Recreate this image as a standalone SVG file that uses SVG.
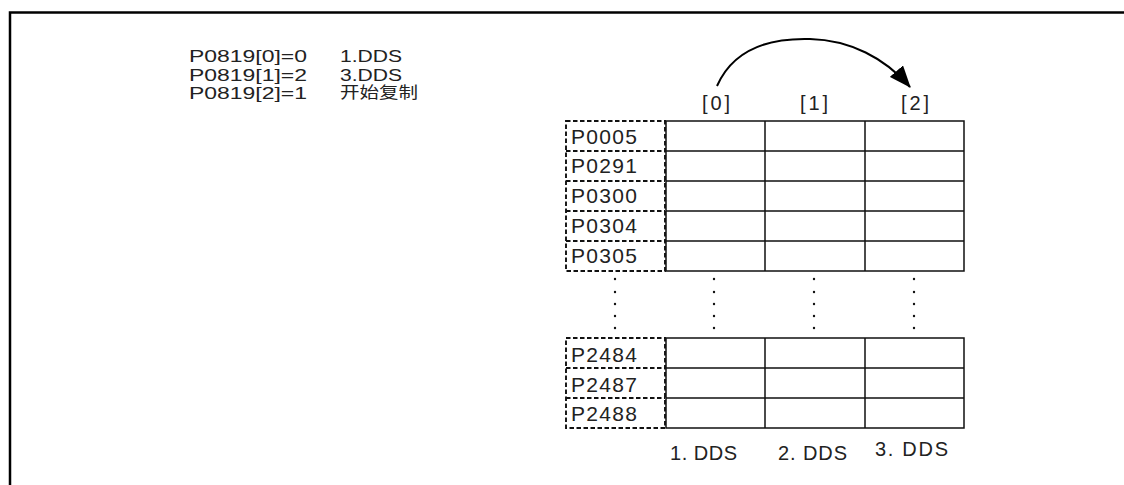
<svg xmlns="http://www.w3.org/2000/svg" width="1124" height="485" viewBox="0 0 1124 485">
<defs>
<style>
.t{font-family:"Liberation Sans","Noto Sans CJK SC",sans-serif;font-size:20px;fill:#222}
.s{font-size:16px}
.r{font-size:21px}
.g{stroke:#111;stroke-width:1.5;fill:none}
.d{stroke:#111;stroke-width:1.9;fill:none;stroke-dasharray:4.5 2.5}
.dot{fill:#111}
</style>
<marker id="ah2" viewBox="0 0 20 16" refX="19" refY="8" markerWidth="22" markerHeight="18" markerUnits="userSpaceOnUse" orient="auto">
<path d="M0,0 L20,8 L0,16 z" fill="#000"/>
</marker>
</defs>
<rect width="1124" height="485" fill="#fff"/>
<g id="frame">
<path d="M10,485 V12.5 H1124" fill="none" stroke="#000" stroke-width="2.5"/>
</g>
<g id="settings">
<text class="t s" x="189" y="62" textLength="118" lengthAdjust="spacingAndGlyphs">P0819[0]=0</text>
<text class="t s" x="340" y="62" textLength="62" lengthAdjust="spacingAndGlyphs">1.DDS</text>
<text class="t s" x="189" y="80.5" textLength="118" lengthAdjust="spacingAndGlyphs">P0819[1]=2</text>
<text class="t s" x="340" y="80.5" textLength="62" lengthAdjust="spacingAndGlyphs">3.DDS</text>
<text class="t s" x="189" y="99" textLength="118" lengthAdjust="spacingAndGlyphs">P0819[2]=1</text>
<text class="t s" x="340" y="98" textLength="78" lengthAdjust="spacingAndGlyphs">开始复制</text>
</g>
<g id="headers">
<text class="t" x="702" y="110" textLength="28">[0]</text>
<text class="t" x="800" y="110" textLength="28">[1]</text>
<text class="t" x="901" y="110" textLength="28">[2]</text>
</g>
<g id="param-column">
<path class="d" d="M566,121 H665 V271 H566 Z M566,151 H665 M566,181 H665 M566,211 H665 M566,241 H665"/>
<path class="d" d="M566,338 H665 V428 H566 Z M566,368 H665 M566,398 H665"/>
<text class="t r" x="571" y="144" textLength="66">P0005</text>
<text class="t r" x="571" y="173" textLength="66">P0291</text>
<text class="t r" x="571" y="203" textLength="66">P0300</text>
<text class="t r" x="571" y="233" textLength="66">P0304</text>
<text class="t r" x="571" y="263" textLength="66">P0305</text>
<text class="t r" x="571" y="362" textLength="66">P2484</text>
<text class="t r" x="571" y="392" textLength="66">P2487</text>
<text class="t r" x="571" y="421" textLength="66">P2488</text>
</g>
<g id="dds-grid">
<path class="g" d="M666,121 H964 V271 H666 Z M666,151 H964 M666,181 H964 M666,211 H964 M666,241 H964 M765,121 V271 M865,121 V271"/>
<path class="g" d="M666,338 H964 V428 H666 Z M666,368 H964 M666,398 H964 M765,338 V428 M865,338 V428"/>
</g>
<g id="ellipsis">
<g class="dot">
<circle cx="615" cy="279" r="1.2"/><circle cx="615" cy="292" r="1.2"/><circle cx="615" cy="304" r="1.2"/><circle cx="615" cy="316" r="1.2"/><circle cx="615" cy="328" r="1.2"/>
<circle cx="714" cy="279" r="1.2"/><circle cx="714" cy="292" r="1.2"/><circle cx="714" cy="304" r="1.2"/><circle cx="714" cy="316" r="1.2"/><circle cx="714" cy="328" r="1.2"/>
<circle cx="814" cy="279" r="1.2"/><circle cx="814" cy="292" r="1.2"/><circle cx="814" cy="304" r="1.2"/><circle cx="814" cy="316" r="1.2"/><circle cx="814" cy="328" r="1.2"/>
<circle cx="914" cy="279" r="1.2"/><circle cx="914" cy="292" r="1.2"/><circle cx="914" cy="304" r="1.2"/><circle cx="914" cy="316" r="1.2"/><circle cx="914" cy="328" r="1.2"/>
</g>
</g>
<g id="labels">
<text class="t" x="670" y="460" textLength="67">1. DDS</text>
<text class="t" x="778" y="460" textLength="69">2. DDS</text>
<text class="t" x="875" y="456" textLength="73">3. DDS</text>
</g>
<g id="connectors">
<path d="M717,86 C735,45 775,38 810,39 C850,40 885,58 910,87" fill="none" stroke="#000" stroke-width="2" marker-end="url(#ah2)"/>
</g>
</svg>
